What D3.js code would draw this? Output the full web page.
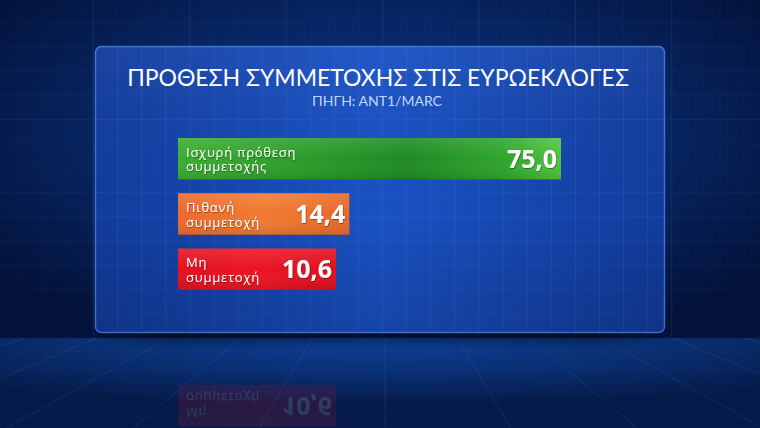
<!DOCTYPE html>
<html>
<head>
<meta charset="utf-8">
<script src="https://cdn.jsdelivr.net/npm/d3@7"></script>
<style>
  html, body { margin: 0; padding: 0; background: #041638; }
  svg { display: block; }
</style>
</head>
<body>
<svg id="chart" width="760" height="428"></svg>
<script>
// ---- data ----
const title = "ΠΡΟΘΕΣΗ ΣΥΜΜΕΤΟΧΗΣ ΣΤΙΣ ΕΥΡΩΕΚΛΟΓΕΣ";
const subtitle = "ΠΗΓΗ: ΑΝΤ1/MARC";
const categories = ["Ισχυρή πρόθεση\nσυμμετοχής", "Πιθανή\nσυμμετοχή", "Μη\nσυμμετοχή"];
const values = [75.0, 14.4, 10.6];
const barColors = ["green", "orange", "red"];

// ---- layout ----
const W = 760, H = 428;
const svg = d3.select("#chart");
const defs = svg.append("defs");

function linGrad(id, x1, y1, x2, y2, stops) {
  const g = defs.append("linearGradient").attr("id", id)
    .attr("x1", x1).attr("y1", y1).attr("x2", x2).attr("y2", y2);
  stops.forEach(s => g.append("stop").attr("offset", s[0]).attr("stop-color", s[1]).attr("stop-opacity", s[2] === undefined ? 1 : s[2]));
  return g;
}
function radGrad(id, cx, cy, r, stops) {
  const g = defs.append("radialGradient").attr("id", id)
    .attr("cx", cx).attr("cy", cy).attr("r", r);
  stops.forEach(s => g.append("stop").attr("offset", s[0]).attr("stop-color", s[1]).attr("stop-opacity", s[2] === undefined ? 1 : s[2]));
  return g;
}

radGrad("bgGrad", "50%", "40%", "65%", [[0, "#0b3182"], [0.55, "#072562"], [1, "#03123a"]]);
radGrad("floorGrad", "50%", "0%", "75%", [[0, "#0d4099"], [0.5, "#0a3074"], [1, "#051a48"]]);
linGrad("panelGrad", "0%", "0%", "100%", "0%", [[0, "#123c9c"], [0.5, "#1a52c4"], [1, "#123c9c"]]);
linGrad("panelV", "0%", "0%", "0%", "100%", [[0, "#ffffff", 0.04], [0.6, "#000000", 0], [1, "#000820", 0.18]]);
linGrad("shadowGrad", "0%", "0%", "0%", "100%", [[0, "#000814", 0.5], [1, "#000814", 0]]);
linGrad("shadowMask", "0%", "0%", "100%", "0%", [[0, "#fff", 0], [0.12, "#fff", 1], [0.88, "#fff", 1], [1, "#fff", 0]]);
defs.append("mask").attr("id", "shMask").append("rect").attr("x", 95).attr("y", 300).attr("width", 570).attr("height", 60).attr("fill", "url(#shadowMask)");
linGrad("green", "0%", "0%", "100%", "0%", [[0, "#3aad30"], [0.35, "#2a9a28"], [0.6, "#1e8a22"], [0.85, "#2fa52c"], [1, "#4ec43e"]]);
linGrad("orange", "0%", "0%", "100%", "0%", [[0, "#ec682c"], [0.5, "#f17a30"], [1, "#e8682a"]]);
linGrad("red", "0%", "0%", "100%", "0%", [[0, "#e2101e"], [0.5, "#ec1422"], [1, "#dd0f1e"]]);
linGrad("barGloss", "0%", "0%", "0%", "100%", [[0, "#ffffff", 0.12], [0.5, "#ffffff", 0], [1, "#000000", 0.1]]);

const sh = defs.append("filter").attr("id", "txtShadow").attr("x", "-10%").attr("y", "-20%").attr("width", "120%").attr("height", "140%");
sh.append("feDropShadow").attr("dx", 0.6).attr("dy", 0.8).attr("stdDeviation", 0.6).attr("flood-color", "#000").attr("flood-opacity", 0.45);

const floorY = 338;

// background
svg.append("rect").attr("width", W).attr("height", floorY).attr("fill", "url(#bgGrad)");
// background grid
const gridG = svg.append("g");
const gx = d3.range(-3, 760, 24.1);
const gy = d3.range(-2, floorY, 24.3);
gridG.selectAll("line.v").data(gx).join("line")
  .attr("x1", d => d).attr("x2", d => d).attr("y1", 0).attr("y2", floorY)
  .attr("stroke", "#6f9ce8").attr("stroke-opacity", (d, i) => (i % 4 === 0 ? 0.15 : 0.06)).attr("stroke-width", 1);
gridG.selectAll("line.h").data(gy).join("line")
  .attr("x1", 0).attr("x2", W).attr("y1", d => d).attr("y2", d => d)
  .attr("stroke", "#6f9ce8").attr("stroke-opacity", 0.07).attr("stroke-width", 1);

// floor
svg.append("rect").attr("y", floorY).attr("width", W).attr("height", H - floorY).attr("fill", "url(#floorGrad)");
const floorG = svg.append("g");
const vpX = 385, spread = d3.range(-7, 8);
floorG.selectAll("line").data(spread).join("line")
  .attr("x1", d => vpX + d * 72).attr("y1", floorY)
  .attr("x2", d => vpX + d * 72 * 1.75).attr("y2", H)
  .attr("stroke", "#7aa6f0").attr("stroke-opacity", 0.13).attr("stroke-width", 1);
floorG.selectAll("line.h").data([352, 370, 392, 418]).join("line")
  .attr("x1", 0).attr("x2", W).attr("y1", d => d).attr("y2", d => d)
  .attr("stroke", "#7aa6f0").attr("stroke-opacity", 0.04);
// shadow under panel
svg.append("rect").attr("x", 95).attr("y", 333).attr("width", 570).attr("height", 16)
  .attr("fill", "url(#shadowGrad)").attr("mask", "url(#shMask)");

// panel
const panel = { x: 95, y: 46, w: 570, h: 287 };
svg.append("rect").attr("x", panel.x).attr("y", panel.y).attr("width", panel.w).attr("height", panel.h)
  .attr("rx", 6).attr("fill", "url(#panelGrad)");
// panel grid
const pg = svg.append("g");
pg.selectAll("line.v").data(gx.filter(d => d > panel.x + 2 && d < panel.x + panel.w - 2)).join("line")
  .attr("x1", d => d).attr("x2", d => d).attr("y1", panel.y + 1).attr("y2", panel.y + panel.h - 1)
  .attr("stroke", "#8fb6ff").attr("stroke-opacity", 0.1).attr("stroke-width", 1);
pg.selectAll("line.h").data(gy.filter(d => d > panel.y + 2 && d < panel.y + panel.h - 2)).join("line")
  .attr("x1", panel.x + 1).attr("x2", panel.x + panel.w - 1).attr("y1", d => d).attr("y2", d => d)
  .attr("stroke", "#8fb6ff").attr("stroke-opacity", 0.08);
svg.append("rect").attr("x", panel.x).attr("y", panel.y).attr("width", panel.w).attr("height", panel.h)
  .attr("rx", 6).attr("fill", "url(#panelV)");
svg.append("rect").attr("x", panel.x + 0.5).attr("y", panel.y + 0.5).attr("width", panel.w - 1).attr("height", panel.h - 1)
  .attr("rx", 6).attr("fill", "none").attr("stroke", "#4f88ea").attr("stroke-opacity", 0.7).attr("stroke-width", 1.5);

// title
const titleT = svg.append("text").attr("x", 378).attr("y", 86).attr("text-anchor", "middle")
  .attr("font-family", "Lato, 'Noto Sans', sans-serif").attr("font-weight", 400)
  .attr("font-size", 22).attr("fill", "#ffffff").text(title);
const tw = titleT.node().getComputedTextLength();
titleT.attr("font-size", 22 * 502 / tw);
const subT = svg.append("text").attr("x", 377).attr("y", 106).attr("text-anchor", "middle")
  .attr("font-family", "Lato, 'Noto Sans', sans-serif").attr("font-weight", 400)
  .attr("font-size", 13).attr("fill", "#c4d6fa").text(subtitle);
const sw = subT.node().getComputedTextLength();
subT.attr("font-size", 13 * 130 / sw);

// scales
const barLeft = 178;
const x = d3.scaleLinear().domain([0, 75]).range([299, 561]);
const y = d3.scaleBand().domain(d3.range(categories.length)).range([138, 290]).paddingInner(0.25).paddingOuter(0);
const fmt = d3.formatLocale({ decimal: ",", thousands: ".", grouping: [3], currency: ["", "€"] }).format(".1f");

function drawBars(g, reflected) {
  const bars = g.selectAll("g.bar").data(values).join("g").attr("class", "bar");
  bars.append("rect")
    .attr("x", barLeft).attr("y", (d, i) => y(i))
    .attr("width", d => x(d) - barLeft).attr("height", y.bandwidth())
    .attr("fill", (d, i) => `url(#${barColors[i]})`);
  bars.append("rect")
    .attr("x", barLeft).attr("y", (d, i) => y(i))
    .attr("width", d => x(d) - barLeft).attr("height", y.bandwidth())
    .attr("fill", "url(#barGloss)");
  const lab = bars.append("text")
    .attr("font-family", "'Open Sans', 'Noto Sans', sans-serif").attr("font-size", 13)
    .attr("letter-spacing", 0.75)
    .attr("fill", "#ffffff").attr("filter", reflected ? null : "url(#txtShadow)");
  lab.each(function (d, i) {
    const lines = categories[i].split("\n");
    const t = d3.select(this);
    lines.forEach((ln, k) => {
      t.append("tspan").attr("x", 186).attr("y", y(i) + y.bandwidth() / 2 - 2 + k * 14.5).text(ln);
    });
  });
  bars.append("text")
    .attr("x", d => x(d) - 4).attr("y", (d, i) => y(i) + y.bandwidth() / 2 + 9)
    .attr("text-anchor", "end")
    .attr("font-family", "'Open Sans', Roboto, sans-serif").attr("font-weight", 700).attr("font-size", 25)
    .attr("fill", "#ffffff").attr("filter", reflected ? null : "url(#txtShadow)")
    .text(d => fmt(d));
}

// reflection on floor
defs.append("clipPath").attr("id", "floorClip").append("rect").attr("x", 0).attr("y", floorY).attr("width", W).attr("height", H - floorY);
const refl = svg.append("g").attr("clip-path", "url(#floorClip)")
  .append("g").attr("transform", `translate(0, ${2 * 337.5}) scale(1, -1)`).attr("opacity", 0.15);
drawBars(refl, true);

// bars
drawBars(svg.append("g"), false);
</script>
</body>
</html>
